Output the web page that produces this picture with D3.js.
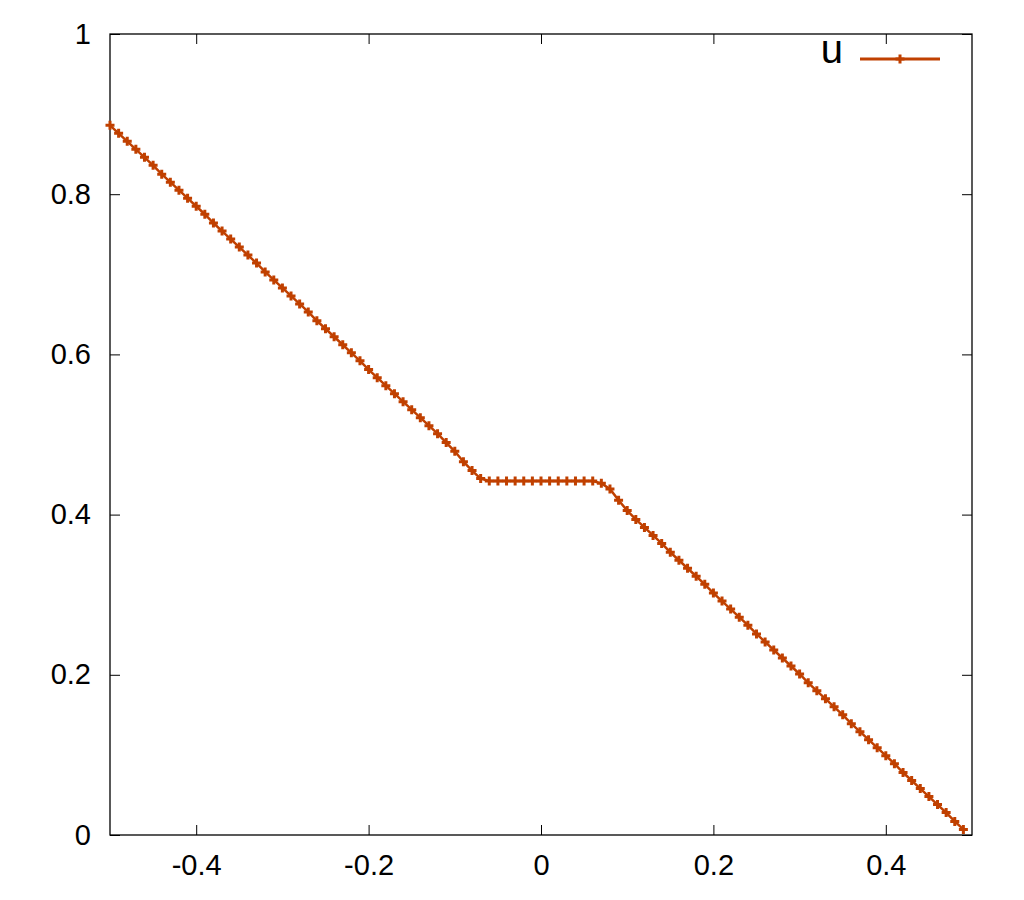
<!DOCTYPE html>
<html>
<head>
<meta charset="utf-8">
<script src="https://cdn.jsdelivr.net/npm/d3@7"></script>
<style>
  body { margin: 0; background: #fff; }
  text { font-family: "Liberation Sans", Arial, sans-serif; fill: #000; }
</style>
</head>
<body>
<div id="chart"></div>
<script>
var svgWidth = 1024;
var svgHeight = 900;

var margin = { top: 34, right: 52, bottom: 65, left: 110 };
var width = svgWidth - margin.left - margin.right;
var height = svgHeight - margin.top - margin.bottom;

// x positions of the samples
var xs = [
  -0.50, -0.49, -0.48, -0.47, -0.46, -0.45, -0.44, -0.43, -0.42, -0.41,
  -0.40, -0.39, -0.38, -0.37, -0.36, -0.35, -0.34, -0.33, -0.32, -0.31,
  -0.30, -0.29, -0.28, -0.27, -0.26, -0.25, -0.24, -0.23, -0.22, -0.21,
  -0.20, -0.19, -0.18, -0.17, -0.16, -0.15, -0.14, -0.13, -0.12, -0.11,
  -0.10, -0.09, -0.08, -0.07, -0.06, -0.05, -0.04, -0.03, -0.02, -0.01,
   0.00,  0.01,  0.02,  0.03,  0.04,  0.05,  0.06,  0.07,  0.08,  0.09,
   0.10,  0.11,  0.12,  0.13,  0.14,  0.15,  0.16,  0.17,  0.18,  0.19,
   0.20,  0.21,  0.22,  0.23,  0.24,  0.25,  0.26,  0.27,  0.28,  0.29,
   0.30,  0.31,  0.32,  0.33,  0.34,  0.35,  0.36,  0.37,  0.38,  0.39,
   0.40,  0.41,  0.42,  0.43,  0.44,  0.45,  0.46,  0.47,  0.48,  0.49
];

// u values
var us = [
  0.886, 0.876, 0.866, 0.856, 0.846, 0.836, 0.825, 0.815, 0.805, 0.795,
  0.785, 0.775, 0.764, 0.754, 0.744, 0.734, 0.724, 0.714, 0.703, 0.693,
  0.683, 0.673, 0.663, 0.653, 0.642, 0.632, 0.622, 0.612, 0.602, 0.592,
  0.581, 0.571, 0.561, 0.551, 0.541, 0.531, 0.521, 0.511, 0.501, 0.490,
  0.479, 0.466, 0.455, 0.445, 0.442, 0.442, 0.442, 0.442, 0.442, 0.442,
  0.442, 0.442, 0.442, 0.442, 0.442, 0.442, 0.442, 0.439, 0.432, 0.418,
  0.405, 0.394, 0.384, 0.374, 0.364, 0.353, 0.343, 0.333, 0.323, 0.313,
  0.302, 0.292, 0.282, 0.272, 0.262, 0.251, 0.241, 0.231, 0.221, 0.211,
  0.201, 0.190, 0.180, 0.170, 0.160, 0.150, 0.139, 0.129, 0.119, 0.109,
  0.099, 0.089, 0.078, 0.068, 0.058, 0.048, 0.038, 0.028, 0.017, 0.007
];

var xTicks = [-0.4, -0.2, 0, 0.2, 0.4];
var yTicks = [0, 0.2, 0.4, 0.6, 0.8, 1];
var seriesName = "u";
var lineColor = "#c04000";

var data = xs.map(function(x, i) { return { x: x, u: us[i] }; });

var svg = d3.select("#chart")
  .append("svg")
  .attr("width", svgWidth)
  .attr("height", svgHeight);

var chartGroup = svg.append("g")
  .attr("transform", `translate(${margin.left}, ${margin.top})`);

var xScale = d3.scaleLinear().domain([-0.5, 0.5]).range([0, width]);
var yScale = d3.scaleLinear().domain([0, 1]).range([height, 0]);

// plain hyphen minus, like gnuplot
var fmt = function(d) { return String(+d.toFixed(1)); };

// axes with inward ticks, mirrored on top and right
function styleAxis(g) {
  g.select(".domain").remove();
  g.selectAll(".tick line").attr("stroke", "#000").attr("stroke-width", 1);
  g.selectAll(".tick text")
    .style("font-size", "29px")
    .style("font-family", "Liberation Sans, Arial, sans-serif");
}

var bottomAxis = d3.axisBottom(xScale).tickValues(xTicks).tickSizeInner(-10).tickSizeOuter(0)
  .tickPadding(0).tickFormat(fmt);
chartGroup.append("g")
  .attr("transform", `translate(0, ${height})`)
  .call(bottomAxis)
  .call(styleAxis)
  .selectAll(".tick text").attr("y", 40).attr("dy", 0);

chartGroup.append("g")
  .call(d3.axisTop(xScale).tickValues(xTicks).tickSizeInner(-10).tickSizeOuter(0).tickFormat(""))
  .call(styleAxis);

var leftAxis = d3.axisLeft(yScale).tickValues(yTicks).tickSizeInner(-10).tickSizeOuter(0).tickFormat(fmt);
chartGroup.append("g")
  .call(leftAxis)
  .call(styleAxis)
  .selectAll(".tick text").attr("x", -19).attr("dy", 0).attr("y", 9);

chartGroup.append("g")
  .attr("transform", `translate(${width}, 0)`)
  .call(d3.axisRight(yScale).tickValues(yTicks).tickSizeInner(-10).tickSizeOuter(0).tickFormat(""))
  .call(styleAxis);

// frame
chartGroup.append("rect")
  .attr("x", 0).attr("y", 0)
  .attr("width", width).attr("height", height)
  .attr("fill", "none")
  .attr("stroke", "#000")
  .attr("stroke-width", 1.3);

// line
var line = d3.line()
  .x(d => xScale(d.x))
  .y(d => yScale(d.u));

chartGroup.append("path")
  .datum(data)
  .attr("fill", "none")
  .attr("stroke", lineColor)
  .attr("stroke-width", 2.5)
  .attr("d", line);

// plus markers
var ms = 4.5;
chartGroup.selectAll(".pt")
  .data(data)
  .enter()
  .append("path")
  .attr("class", "pt")
  .attr("d", d => {
    var cx = xScale(d.x), cy = yScale(d.u);
    return `M${cx - ms},${cy}H${cx + ms}M${cx},${cy - ms}V${cy + ms}`;
  })
  .attr("stroke", lineColor)
  .attr("stroke-width", 3)
  .attr("fill", "none");

// legend
var legend = svg.append("g").attr("class", "legend");
legend.append("text")
  .attr("x", 843)
  .attr("y", 63)
  .attr("text-anchor", "end")
  .style("font-size", "40px")
  .text(seriesName);
legend.append("line")
  .attr("x1", 860).attr("x2", 940)
  .attr("y1", 59).attr("y2", 59)
  .attr("stroke", lineColor)
  .attr("stroke-width", 3);
legend.append("path")
  .attr("d", `M${900 - ms},59H${900 + ms}M900,${59 - ms}V${59 + ms}`)
  .attr("stroke", lineColor)
  .attr("stroke-width", 3);
</script>
</body>
</html>
